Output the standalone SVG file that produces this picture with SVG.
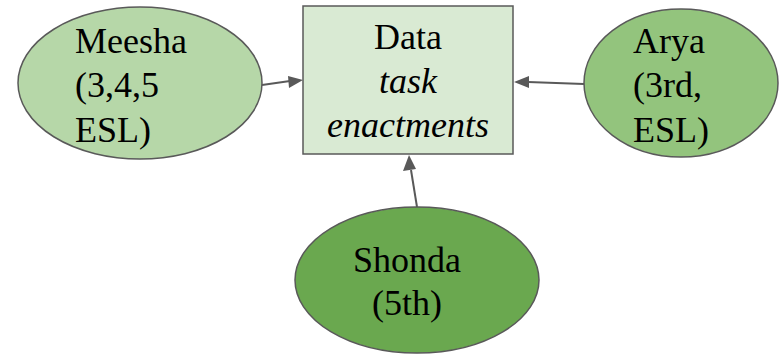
<svg xmlns="http://www.w3.org/2000/svg" width="780" height="354" viewBox="0 0 780 354">
  <style>
    .node { stroke: #595959; stroke-width: 1.5; }
    .lbl { font-family: "Liberation Serif", "Times New Roman", serif; font-size: 36px; fill: #000; }
    .it { font-style: italic; }
    .edge { stroke: #595959; stroke-width: 2; fill: none; }
    .head { fill: #595959; }
  </style>
  <rect width="780" height="354" fill="#ffffff"/>

  <!-- arrows: shaft lines plus filled triangular heads -->
  <g id="connectors">
    <line class="edge" x1="262" y1="85" x2="290" y2="81"/>
    <path class="head" d="M288,76 L303,80 L289,88 z"/>
    <line class="edge" x1="584" y1="84" x2="528" y2="82"/>
    <path class="head" d="M514,82 L529,76 L529,88 z"/>
    <line class="edge" x1="417" y1="207" x2="411" y2="170"/>
    <path class="head" d="M409,155 L403,171 L416,169 z"/>
  </g>

  <g id="meesha">
    <ellipse class="node" cx="140" cy="83" rx="122" ry="76" fill="#b6d7a8"/>
    <text class="lbl" x="75" y="53">Meesha</text>
    <text class="lbl" x="75" y="97">(3,4,5</text>
    <text class="lbl" x="75" y="142">ESL)</text>
  </g>

  <g id="data">
    <rect class="node" x="303" y="6" width="210" height="148" fill="#d9ead3"/>
    <text class="lbl" x="408" y="49" text-anchor="middle">Data</text>
    <text class="lbl it" x="408" y="93" text-anchor="middle">task</text>
    <text class="lbl it" x="408" y="137" text-anchor="middle">enactments</text>
  </g>

  <g id="arya">
    <ellipse class="node" cx="681" cy="83" rx="97" ry="74" fill="#93c47d"/>
    <text class="lbl" x="633" y="53">Arya</text>
    <text class="lbl" x="633" y="97">(3rd,</text>
    <text class="lbl" x="633" y="142">ESL)</text>
  </g>

  <g id="shonda">
    <ellipse class="node" cx="417" cy="280" rx="122" ry="73" fill="#6aa84f"/>
    <text class="lbl" x="407" y="272" text-anchor="middle">Shonda</text>
    <text class="lbl" x="407" y="315" text-anchor="middle">(5th)</text>
  </g>
</svg>
